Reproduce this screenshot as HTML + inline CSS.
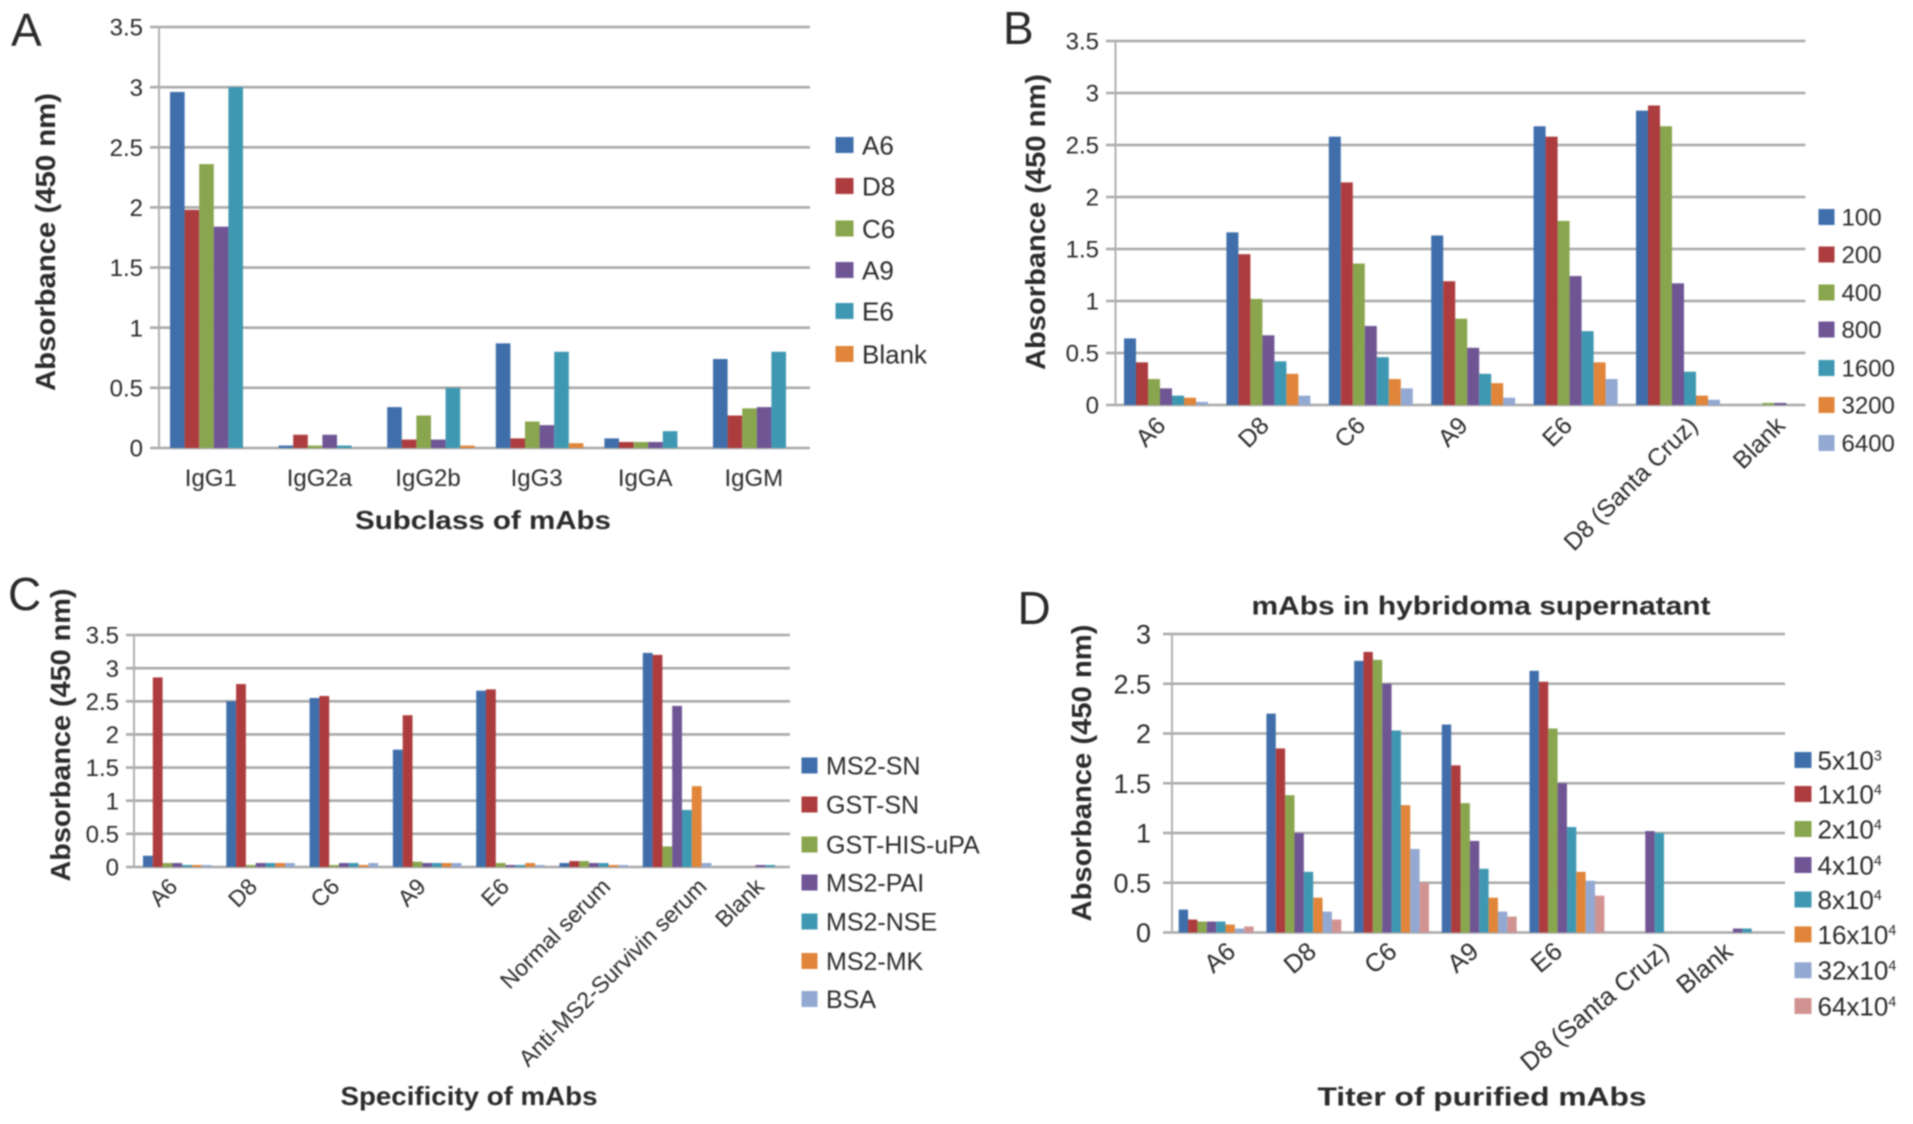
<!DOCTYPE html>
<html lang="en">
<head>
<meta charset="utf-8">
<title>Absorbance of mAbs panels</title>
<style>
html,body{margin:0;padding:0;background:#fff;width:1913px;height:1124px;overflow:hidden}
#figure{display:block;filter:blur(.8px)}
text{font-family:"Liberation Sans",Arial,sans-serif;fill:#2a2a2a}
</style>
</head>
<body>
<svg id="figure" xmlns="http://www.w3.org/2000/svg" width="1913" height="1124" viewBox="0 0 1913 1124"></svg>
<script>
const palette = ['#3f6eaa','#ad3c3e','#89a54e','#6f5594','#3f98b2','#e0853a','#93a9d2','#d19392'];

const categoriesA = ['IgG1','IgG2a','IgG2b','IgG3','IgGA','IgGM'];
const seriesNamesA = ['A6','D8','C6','A9','E6','Blank'];
const a_A6 = [2.96,0.02,0.34,0.87,0.08,0.74];
const a_D8 = [1.98,0.11,0.07,0.08,0.05,0.27];
const a_C6 = [2.36,0.02,0.27,0.22,0.05,0.33];
const a_A9 = [1.84,0.11,0.07,0.19,0.05,0.34];
const a_E6 = [3.0,0.02,0.5,0.8,0.14,0.8];
const a_Blank = [0,0,0.02,0.04,0,0];
const ticksA = [0,0.5,1,1.5,2,2.5,3,3.5];

const categoriesB = ['A6','D8','C6','A9','E6','D8 (Santa Cruz)','Blank'];
const seriesNamesB = ['100','200','400','800','1600','3200','6400'];
const b_100 = [0.64,1.66,2.58,1.63,2.68,2.83,0];
const b_200 = [0.41,1.45,2.14,1.19,2.58,2.88,0];
const b_400 = [0.25,1.02,1.36,0.83,1.77,2.68,0.02];
const b_800 = [0.16,0.67,0.76,0.55,1.24,1.17,0.02];
const b_1600 = [0.09,0.42,0.46,0.30,0.71,0.32,0];
const b_3200 = [0.07,0.30,0.25,0.21,0.41,0.09,0];
const b_6400 = [0.03,0.09,0.16,0.07,0.25,0.05,0];
const ticksB = [0,0.5,1,1.5,2,2.5,3,3.5];

const categoriesC = ['A6','D8','C6','A9','E6','Normal serum','Anti-MS2-Survivin serum','Blank'];
const seriesNamesC = ['MS2-SN','GST-SN','GST-HIS-uPA','MS2-PAI','MS2-NSE','MS2-MK','BSA'];
const c_MS2SN = [0.17,2.5,2.55,1.77,2.66,0.06,3.23,0];
const c_GSTSN = [2.86,2.76,2.58,2.29,2.68,0.09,3.2,0];
const c_GSTHIS = [0.06,0.03,0.03,0.08,0.06,0.09,0.31,0];
const c_MS2PAI = [0.06,0.06,0.06,0.06,0.03,0.06,2.43,0.03];
const c_MS2NSE = [0.03,0.06,0.06,0.06,0.03,0.06,0.86,0.03];
const c_MS2MK = [0.03,0.06,0.03,0.06,0.06,0.03,1.22,0];
const c_BSA = [0.03,0.06,0.06,0.06,0.03,0.03,0.06,0];
const ticksC = [0,0.5,1,1.5,2,2.5,3,3.5];

const categoriesD = ['A6','D8','C6','A9','E6','D8 (Santa Cruz)','Blank'];
const seriesNamesD = ['5x10','1x10','2x10','4x10','8x10','16x10','32x10','64x10'];
const seriesExponentsD = ['3','4','4','4','4','4','4','4'];
const d_5e3 = [0.23,2.2,2.73,2.09,2.63,0,0];
const d_1e4 = [0.13,1.85,2.82,1.68,2.52,0,0];
const d_2e4 = [0.11,1.38,2.74,1.3,2.05,0,0];
const d_4e4 = [0.11,1.0,2.5,0.92,1.5,1.02,0.04];
const d_8e4 = [0.11,0.61,2.03,0.64,1.06,1.0,0.04];
const d_16e4 = [0.08,0.35,1.28,0.35,0.61,0,0];
const d_32e4 = [0.04,0.21,0.84,0.21,0.52,0,0];
const d_64e4 = [0.06,0.13,0.5,0.16,0.37,0,0];
const ticksD = [0,0.5,1,1.5,2,2.5,3];

const NS = 'http://www.w3.org/2000/svg';
const root = document.getElementById('figure');

function make(tag, parent, attrs, content) {
  const el = document.createElementNS(NS, tag);
  for (const k in attrs) el.setAttribute(k, attrs[k]);
  if (content !== undefined) el.textContent = content;
  parent.appendChild(el);
  return el;
}

function drawPanel(cfg) {
  const group = make('g', root, {});
  
  

  const maxTick = cfg.ticks[cfg.ticks.length - 1];
  const yScale = v => cfg.y0 - (v / maxTick) * (cfg.y0 - cfg.yTop);
  const xScale = (cat, s) => cfg.barStart + cat * cfg.catStep + s * cfg.barW;

  const panelLetter = make('text', group, {x: cfg.letterX, y: cfg.letterY, 'font-size': 46}, cfg.id);
  
  

  cfg.ticks.forEach(t => {
    const gy = yScale(t);
    const line = make('line', group, {x1: cfg.tickLeft, x2: cfg.gridRight, y1: gy, y2: gy, stroke: '#a9a9a9', 'stroke-width': 2.6});
    
    
    const label = make('text', group, {x: cfg.tickRight, y: gy + cfg.tickSize * 0.36, 'text-anchor': 'end', 'font-size': cfg.tickSize}, String(t));
    
    
  });

  const axis = make('line', group, {x1: cfg.axisX, x2: cfg.axisX, y1: cfg.yTop, y2: cfg.y0, stroke: '#b0b0b0', 'stroke-width': 2});
  
  

  cfg.series.forEach((values, s) => {
    values.forEach((v, c) => {
      if (v <= 0) return;
      const bar = make('rect', group, {x: xScale(c, s), y: yScale(v), width: cfg.barW, height: cfg.y0 - yScale(v), fill: palette[s]});
      
      
    });
  });

  cfg.categories.forEach((name, c) => {
    const center = xScale(c, cfg.series.length / 2);
    let label;
    if (cfg.rotate) {
      const lx = center + cfg.labelNudge[c];
      const ly = cfg.labelY;
      label = make('text', group, {x: lx, y: ly, 'text-anchor': 'end', 'font-size': cfg.labelSize, transform: 'rotate(' + cfg.rotate + ' ' + lx + ' ' + ly + ')'}, name);
    } else {
      label = make('text', group, {x: center + cfg.labelDx, y: cfg.labelY, 'text-anchor': 'middle', 'font-size': cfg.labelSize}, name);
    }
    
    
  });

  cfg.names.forEach((name, s) => {
    const ly = cfg.legendY[s];
    const swatch = make('rect', group, {x: cfg.legendX, y: ly - 8, width: cfg.swatchW, height: 16, fill: palette[s]});
    
    
    const entry = make('text', group, {x: cfg.legendTextX, y: ly + cfg.legendSize * 0.36, 'font-size': cfg.legendSize}, name);
    
    
    if (cfg.exponents) {
      const sup = make('tspan', entry, {dy: -9, 'font-size': cfg.legendSize * 0.55}, cfg.exponents[s]);
      
      
    }
  });

  const yTitle = make('text', group, {
    x: cfg.yTitleX, y: cfg.yTitleY, 'text-anchor': 'middle', 'font-size': 28, 'font-weight': 700,
    textLength: cfg.yTitleLen, lengthAdjust: 'spacingAndGlyphs',
    transform: 'rotate(-90 ' + cfg.yTitleX + ' ' + cfg.yTitleY + ')'
  }, 'Absorbance (450 nm)');
  
  

  (cfg.titles || []).forEach(t => {
    const title = make('text', group, {
      x: t.x, y: t.y, 'text-anchor': 'middle', 'font-size': 26, 'font-weight': 700,
      textLength: t.len, lengthAdjust: 'spacingAndGlyphs'
    }, t.text);
    
    
  });
}

drawPanel({
  id: 'A', letterX: 11, letterY: 46,
  categories: categoriesA, names: seriesNamesA, ticks: ticksA,
  series: [a_A6, a_D8, a_C6, a_A9, a_E6, a_Blank],
  axisX: 159, tickLeft: 150, gridRight: 810, tickRight: 143, tickSize: 24,
  yTop: 27, y0: 448, barStart: 170, catStep: 108.6, barW: 14.6,
  labelY: 486, labelSize: 24, rotate: 0, labelDx: -3,
  legendX: 835.5, legendTextX: 862, swatchW: 18, legendSize: 26,
  legendY: [145,186,228.5,270,311,354],
  yTitleX: 55, yTitleY: 242, yTitleLen: 298,
  titles: [{text: 'Subclass of mAbs', x: 483, y: 529, len: 256, name: 'x-axis-title'}]
});

drawPanel({
  id: 'B', letterX: 1003, letterY: 44,
  categories: categoriesB, names: seriesNamesB, ticks: ticksB,
  series: [b_100, b_200, b_400, b_800, b_1600, b_3200, b_6400],
  axisX: 1115.5, tickLeft: 1106, gridRight: 1805.5, tickRight: 1099, tickSize: 24,
  yTop: 41, y0: 405, barStart: 1124, catStep: 102.4, barW: 12,
  labelY: 427, labelSize: 24.5, rotate: -45, labelNudge: [1,2,-4,-4,-2,21,6],
  legendX: 1818.5, legendTextX: 1841.5, swatchW: 16, legendSize: 24,
  legendY: [217,254.5,292.5,329.5,368,405,443],
  yTitleX: 1045, yTitleY: 222, yTitleLen: 296
});

drawPanel({
  id: 'C', letterX: 8, letterY: 610,
  categories: categoriesC, names: seriesNamesC, ticks: ticksC,
  series: [c_MS2SN, c_GSTSN, c_GSTHIS, c_MS2PAI, c_MS2NSE, c_MS2MK, c_BSA],
  axisX: 134, tickLeft: 126, gridRight: 790, tickRight: 119, tickSize: 24,
  yTop: 635, y0: 867, barStart: 143, catStep: 83.3, barW: 9.8,
  labelY: 888, labelSize: 23, rotate: -45, labelNudge: [1.5,-2,-3,0,0,18,31,5],
  legendX: 801.5, legendTextX: 826, swatchW: 16, legendSize: 25,
  legendY: [765.5,804.5,844.5,882.5,921.5,961,999],
  yTitleX: 70, yTitleY: 735, yTitleLen: 293,
  titles: [{text: 'Specificity of mAbs', x: 469, y: 1105, len: 257, name: 'x-axis-title'}]
});

drawPanel({
  id: 'D', letterX: 1017.5, letterY: 624,
  categories: categoriesD, names: seriesNamesD, exponents: seriesExponentsD, ticks: ticksD,
  series: [d_5e3, d_1e4, d_2e4, d_4e4, d_8e4, d_16e4, d_32e4, d_64e4],
  axisX: 1172, tickLeft: 1163, gridRight: 1785, tickRight: 1151, tickSize: 27,
  yTop: 634, y0: 932.5, barStart: 1178.7, catStep: 87.7, barW: 9.36,
  labelY: 954, labelSize: 25.5, rotate: -40, labelNudge: [21,14,7,1,-3,16,-8],
  legendX: 1794.5, legendTextX: 1817.5, swatchW: 17, legendSize: 26,
  legendY: [760,794,829,865,899.5,934.4,970.3,1006],
  yTitleX: 1091, yTitleY: 773, yTitleLen: 297,
  titles: [
    {text: 'mAbs in hybridoma supernatant', x: 1481, y: 614.5, len: 459, name: 'chart-title'},
    {text: 'Titer of purified mAbs', x: 1482, y: 1105.5, len: 329, name: 'x-axis-title'}
  ]
});
</script>
</body>
</html>
